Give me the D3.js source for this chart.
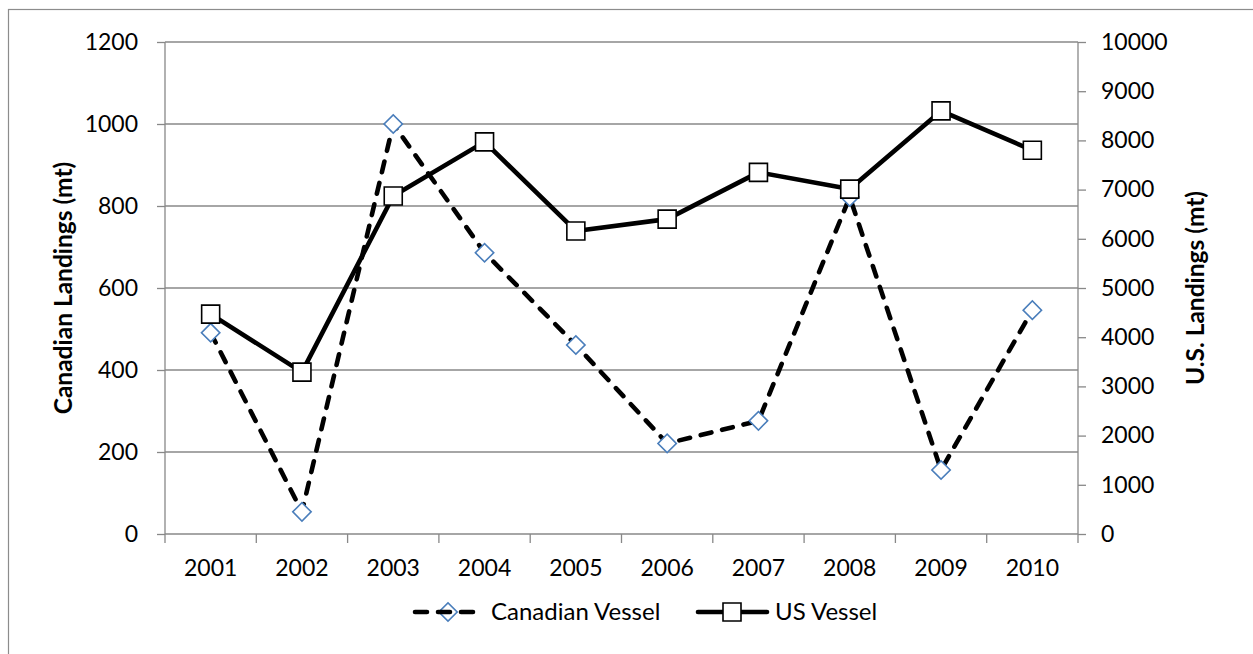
<!DOCTYPE html>
<html>
<head>
<meta charset="utf-8">
<script src="https://cdn.jsdelivr.net/npm/d3@7/dist/d3.min.js"></script>
<style>
  html, body { margin: 0; padding: 0; background: #fff; }
  svg { display: block; }
  text { font-family: Lato, "Open Sans", sans-serif; fill: #000; }
</style>
</head>
<body>
<svg id="chart" width="1253" height="654"></svg>
<script>
const years = ["2001","2002","2003","2004","2005","2006","2007","2008","2009","2010"];
const canadian = [491, 54, 1000, 686, 461, 221, 276, 822, 156, 546];
const us = [4470, 3290, 6870, 7970, 6160, 6400, 7350, 7010, 8600, 7800];
const leftTicks = [0, 200, 400, 600, 800, 1000, 1200];
const rightTicks = [0, 1000, 2000, 3000, 4000, 5000, 6000, 7000, 8000, 9000, 10000];
const seriesNames = ["Canadian Vessel", "US Vessel"];
const leftTitle = "Canadian Landings (mt)";
const rightTitle = "U.S. Landings (mt)";

const svg = d3.select("#chart");
const plot = { left: 165, right: 1078, top: 42, bottom: 534 };
const gridColor = "#888888";

// outer border
svg.append("rect").attr("x", 8.5).attr("y", 9.5).attr("width", 1260).attr("height", 700)
  .attr("fill", "none").attr("stroke", "#8c8c8c").attr("stroke-width", 1.2);

const x = d3.scaleBand().domain(years).range([plot.left, plot.right]).padding(0);
const yL = d3.scaleLinear().domain([0, 1200]).range([plot.bottom, plot.top]);
const yR = d3.scaleLinear().domain([0, 10000]).range([plot.bottom, plot.top]);

const fontTick = 23;
const fontLegend = 24;
const fontTitle = 24.5;

// gridlines
svg.append("g").selectAll("line").data(leftTicks.filter(d => d > 0)).join("line")
  .attr("x1", plot.left).attr("x2", plot.right)
  .attr("y1", d => yL(d)).attr("y2", d => yL(d))
  .attr("stroke", gridColor).attr("stroke-width", 1.3);

// left axis
const gL = svg.append("g").attr("transform", `translate(${plot.left},0)`)
  .call(d3.axisLeft(yL).tickValues(leftTicks).tickSize(8).tickPadding(19).tickFormat(d3.format("d")));
// right axis
const gR = svg.append("g").attr("transform", `translate(${plot.right},0)`)
  .call(d3.axisRight(yR).tickValues(rightTicks).tickSize(8).tickPadding(15).tickFormat(d3.format("d")));
// bottom axis
const xTickPos = years.map(d => x(d)).concat([plot.right]);
const gB = svg.append("g").attr("transform", `translate(0,${plot.bottom})`)
  .call(d3.axisBottom(x).tickSize(0).tickPadding(26));
gB.selectAll(".tick-b").data(xTickPos).join("line").attr("class", "tick-b")
  .attr("x1", d => d).attr("x2", d => d).attr("y1", 0).attr("y2", 9)
  .attr("stroke", gridColor).attr("stroke-width", 1.3);

[gL, gR, gB].forEach(g => {
  g.select(".domain").attr("stroke", gridColor).attr("stroke-width", 1.3);
  g.selectAll(".tick line").attr("stroke", gridColor).attr("stroke-width", 1.3);
  g.selectAll(".tick text").attr("font-size", fontTick).attr("font-family", "Lato, sans-serif").attr("fill", "#000");
});
gL.select(".domain").attr("d", `M0,${plot.top}V${plot.bottom}`);
gR.select(".domain").attr("d", `M0,${plot.top}V${plot.bottom}`);
gB.select(".domain").attr("d", `M${plot.left},0H${plot.right}`);

// axis titles
svg.append("text").attr("transform", `translate(72,${(plot.top + plot.bottom) / 2}) rotate(-90)`)
  .attr("text-anchor", "middle").attr("font-weight", "bold").attr("font-size", fontTitle).text(leftTitle);
svg.append("text").attr("transform", `translate(1204,${(plot.top + plot.bottom) / 2}) rotate(-90)`)
  .attr("text-anchor", "middle").attr("font-weight", "bold").attr("font-size", fontTitle).text(rightTitle);

const cx = d => x(d) + x.bandwidth() / 2;

// Canadian series (dashed)
const lineL = d3.line().x((d, i) => cx(years[i])).y(d => yL(d));
svg.append("path").datum(canadian).attr("d", lineL)
  .attr("fill", "none").attr("stroke", "#000").attr("stroke-width", 4.6)
  .attr("stroke-dasharray", "11,11").attr("stroke-linecap", "round");
const diamond = d3.symbol().type(d3.symbolSquare).size(13 * 13);
svg.append("g").selectAll("path").data(canadian).join("path")
  .attr("d", diamond)
  .attr("transform", (d, i) => `translate(${cx(years[i])},${yL(d)}) rotate(45)`)
  .attr("fill", "#fff").attr("stroke", "#4a7ebb").attr("stroke-width", 1.6);

// US series (solid)
const lineR = d3.line().x((d, i) => cx(years[i])).y(d => yR(d));
svg.append("path").datum(us).attr("d", lineR)
  .attr("fill", "none").attr("stroke", "#000").attr("stroke-width", 4.6).attr("stroke-linejoin", "round");
const square = d3.symbol().type(d3.symbolSquare).size(18 * 18);
svg.append("g").selectAll("path").data(us).join("path")
  .attr("d", square)
  .attr("transform", (d, i) => `translate(${cx(years[i])},${yR(d)})`)
  .attr("fill", "#fff").attr("stroke", "#000").attr("stroke-width", 1.6);

// legend
const ly = 612;
const lg = svg.append("g");
lg.append("path").attr("d", diamond).attr("transform", `translate(448,${ly}) rotate(45)`)
  .attr("fill", "#fff").attr("stroke", "#4a7ebb").attr("stroke-width", 1.6);
lg.append("line").attr("x1", 415).attr("x2", 475).attr("y1", ly).attr("y2", ly)
  .attr("stroke", "#000").attr("stroke-width", 4.6).attr("stroke-linecap", "round")
  .attr("stroke-dasharray", "12,11");
lg.append("text").attr("x", 491).attr("y", ly).attr("dy", "0.35em").attr("font-size", fontLegend).text(seriesNames[0]);
lg.append("line").attr("x1", 698).attr("x2", 767).attr("y1", ly).attr("y2", ly)
  .attr("stroke", "#000").attr("stroke-width", 4.6).attr("stroke-linecap", "round");
lg.append("path").attr("d", square).attr("transform", `translate(732,${ly})`)
  .attr("fill", "#fff").attr("stroke", "#000").attr("stroke-width", 1.6);
lg.append("text").attr("x", 775).attr("y", ly).attr("dy", "0.35em").attr("font-size", fontLegend).text(seriesNames[1]);
</script>
</body>
</html>
